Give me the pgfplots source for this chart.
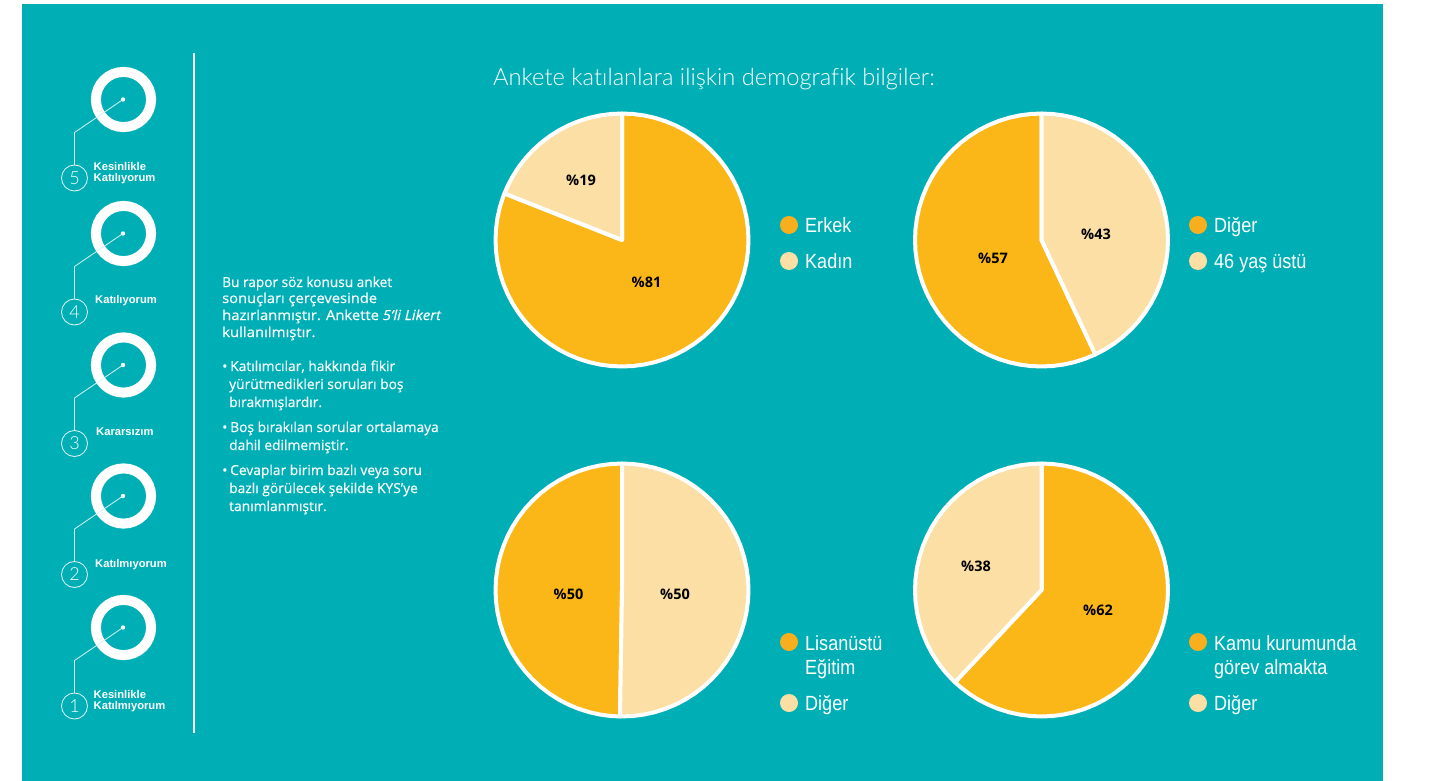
\documentclass[border=0pt]{standalone}
\usepackage{fontspec}
\usepackage{graphicx}
\usepackage{pgfplots}
\pgfplotsset{compat=1.18}
\setmainfont{Open Sans}
\newfontfamily\leg[FakeStretch=0.88]{Liberation Sans}
\newfontfamily\ttl[Ligatures=NoCommon]{Lato Light}
\newfontfamily\sm{Liberation Sans}
\definecolor{teal1}{HTML}{00AFB6}
\definecolor{org}{HTML}{FBB718}
\definecolor{lgt}{HTML}{FBDFA4}
\definecolor{legorg}{HTML}{F9AE1E}
\pgfplotsset{piebase/.style={hide axis,scale only axis,width=265.6pt,height=265.6pt,
  xmin=-1.05,xmax=1.05,ymin=-1.05,ymax=1.05,clip=false,anchor=center,no markers},
  wedge/.style={draw=white,line width=4pt,line join=round,data cs=polar}}
\begin{document}
\begin{tikzpicture}[x=1pt,y=-1pt]
\path[use as bounding box,fill=white] (0,0) rectangle (1429,781);
\fill[teal1] (22,4) rectangle (1383,781);
% vertical rule
\draw[white,line width=1.2pt] (194,53) -- (194,733);
% Likert icons
\foreach \c/\n in {99.5/5,233.5/4,365/3,496/2,627.5/1}{
  \draw[white,line width=10pt] (123.5,\c) circle (27.6);
  \fill[white] (123,\c) circle (2.2);
  \draw[white!85!teal1,line width=0.8pt] (123,\c) -- (74.5,\c+33) -- (74.5,\c+65.5);
  \draw[white!90!teal1,line width=0.8pt] (74.5,\c+78.5) circle (13);
  \node[white,font=\ttl\fontsize{18}{18}\selectfont] at (74.5,\c+78.5) {\n};
}
\tikzset{lk/.style={white,anchor=west,inner sep=0,font=\sm\bfseries\fontsize{11.2}{11.2}\selectfont}}
\node[lk] at (93.5,166.5) {Kesinlikle};
\node[lk] at (93.5,178.5) {Katılıyorum};
\node[lk] at (95,300.5) {Katılıyorum};
\node[lk] at (96,431.5) {Kararsızım};
\node[lk] at (95,564.5) {Katılmıyorum};
\node[lk] at (93.5,694.5) {Kesinlikle};
\node[lk] at (93.5,706.5) {Katılmıyorum};
% paragraph
\tikzset{pg/.style={white,anchor=base west,inner sep=0,font=\fontsize{13.8}{16}\selectfont\addfontfeature{FakeBold=0.2}}}
\node[pg] at (222,287) {\scalebox{0.99}[1]{Bu rapor söz konusu anket}};
\node[pg] at (222,303) {\scalebox{1.065}[1]{sonuçları çerçevesinde}};
\node[pg] at (222,320) {\scalebox{1.073}[1]{hazırlanmıştır. Ankette \textit{5’li Likert}}};
\node[pg] at (222,337) {\scalebox{1.08}[1]{kullanılmıştır.}};
\node[pg] at (222,371) {•};
\node[pg] at (230,371) {Katılımcılar, hakkında fikir};
\node[pg] at (229,389) {yürütmedikleri soruları boş};
\node[pg] at (229,407) {bırakmışlardır.};
\node[pg] at (222,432) {•};
\node[pg] at (230,432) {Boş bırakılan sorular ortalamaya};
\node[pg] at (229,450) {dahil edilmemiştir.};
\node[pg] at (222,475) {•};
\node[pg] at (230,475) {Cevaplar birim bazlı veya soru};
\node[pg] at (229,493) {bazlı görülecek şekilde KYS’ye};
\node[pg] at (229,511) {tanımlanmıştır.};
% title
\node[white,anchor=base west,inner sep=0,font=\ttl\fontsize{23.7}{23.7}\selectfont] at (493,86) {Ankete katılanlara ilişkin demografik bilgiler:};
% pie 1
\begin{axis}[piebase,at={(622pt,-240pt)}]
\addplot[wedge,fill=org] coordinates {(0,0) (90,1) (85,1) (80,1) (75,1) (70,1) (65,1) (60,1) (55,1) (50,1) (45,1) (40,1) (35,1) (30,1) (25,1) (20,1) (15,1) (10,1) (5,1) (0,1) (-5,1) (-10,1) (-15,1) (-20,1) (-25,1) (-30,1) (-35,1) (-40,1) (-45,1) (-50,1) (-55,1) (-60,1) (-65,1) (-70,1) (-75,1) (-80,1) (-85,1) (-90,1) (-95,1) (-100,1) (-105,1) (-110,1) (-115,1) (-120,1) (-125,1) (-130,1) (-135,1) (-140,1) (-145,1) (-150,1) (-155,1) (-160,1) (-165,1) (-170,1) (-175,1) (-180,1) (-185,1) (-190,1) (-195,1) (-200,1) (-201.6,1)} --cycle;
\addplot[wedge,fill=lgt] coordinates {(0,0) (158.4,1) (155,1) (150,1) (145,1) (140,1) (135,1) (130,1) (125,1) (120,1) (115,1) (110,1) (105,1) (100,1) (95,1) (90,1)} --cycle;
\end{axis}
% pie 2
\begin{axis}[piebase,at={(1041.5pt,-240pt)}]
\addplot[wedge,fill=org] coordinates {(0,0) (-64.8,1) (-65,1) (-70,1) (-75,1) (-80,1) (-85,1) (-90,1) (-95,1) (-100,1) (-105,1) (-110,1) (-115,1) (-120,1) (-125,1) (-130,1) (-135,1) (-140,1) (-145,1) (-150,1) (-155,1) (-160,1) (-165,1) (-170,1) (-175,1) (-180,1) (-185,1) (-190,1) (-195,1) (-200,1) (-205,1) (-210,1) (-215,1) (-220,1) (-225,1) (-230,1) (-235,1) (-240,1) (-245,1) (-250,1) (-255,1) (-260,1) (-265,1) (-270,1)} --cycle;
\addplot[wedge,fill=lgt] coordinates {(0,0) (90,1) (85,1) (80,1) (75,1) (70,1) (65,1) (60,1) (55,1) (50,1) (45,1) (40,1) (35,1) (30,1) (25,1) (20,1) (15,1) (10,1) (5,1) (0,1) (-5,1) (-10,1) (-15,1) (-20,1) (-25,1) (-30,1) (-35,1) (-40,1) (-45,1) (-50,1) (-55,1) (-60,1) (-64.8,1)} --cycle;
\end{axis}
% pie 3
\begin{axis}[piebase,at={(622pt,-590pt)}]
\addplot[wedge,fill=org] coordinates {(0,0) (90,1) (95,1) (100,1) (105,1) (110,1) (115,1) (120,1) (125,1) (130,1) (135,1) (140,1) (145,1) (150,1) (155,1) (160,1) (165,1) (170,1) (175,1) (180,1) (185,1) (190,1) (195,1) (200,1) (205,1) (210,1) (215,1) (220,1) (225,1) (230,1) (235,1) (240,1) (245,1) (250,1) (255,1) (260,1) (265,1) (269.1,1)} --cycle;
\addplot[wedge,fill=lgt] coordinates {(0,0) (90,1) (85,1) (80,1) (75,1) (70,1) (65,1) (60,1) (55,1) (50,1) (45,1) (40,1) (35,1) (30,1) (25,1) (20,1) (15,1) (10,1) (5,1) (0,1) (-5,1) (-10,1) (-15,1) (-20,1) (-25,1) (-30,1) (-35,1) (-40,1) (-45,1) (-50,1) (-55,1) (-60,1) (-65,1) (-70,1) (-75,1) (-80,1) (-85,1) (-90.9,1)} --cycle;
\end{axis}
% pie 4
\begin{axis}[piebase,at={(1041.5pt,-590pt)}]
\addplot[wedge,fill=org] coordinates {(0,0) (90,1) (85,1) (80,1) (75,1) (70,1) (65,1) (60,1) (55,1) (50,1) (45,1) (40,1) (35,1) (30,1) (25,1) (20,1) (15,1) (10,1) (5,1) (0,1) (-5,1) (-10,1) (-15,1) (-20,1) (-25,1) (-30,1) (-35,1) (-40,1) (-45,1) (-50,1) (-55,1) (-60,1) (-65,1) (-70,1) (-75,1) (-80,1) (-85,1) (-90,1) (-95,1) (-100,1) (-105,1) (-110,1) (-115,1) (-120,1) (-125,1) (-130,1) (-133.2,1)} --cycle;
\addplot[wedge,fill=lgt] coordinates {(0,0) (226.8,1) (225,1) (220,1) (215,1) (210,1) (205,1) (200,1) (195,1) (190,1) (185,1) (180,1) (175,1) (170,1) (165,1) (160,1) (155,1) (150,1) (145,1) (140,1) (135,1) (130,1) (125,1) (120,1) (115,1) (110,1) (105,1) (100,1) (95,1) (90,1)} --cycle;
\end{axis}
% value labels
\tikzset{vl/.style={black,inner sep=0,font=\bfseries\fontsize{14.5}{14.5}\selectfont}}
\node[vl] at (646.5,282) {\%81};
\node[vl] at (581,180) {\%19};
\node[vl] at (993,258) {\%57};
\node[vl] at (1096,234) {\%43};
\node[vl] at (568.5,594) {\%50};
\node[vl] at (675,594) {\%50};
\node[vl] at (976,566) {\%38};
\node[vl] at (1098,610) {\%62};
% legends
\tikzset{lg/.style={white,anchor=base west,inner sep=0,font=\leg\fontsize{20.5}{20.5}\selectfont}}
\foreach \x/\y/\col in {789/225/legorg,789/261/lgt,1198/225/legorg,1198/261/lgt,789/642/legorg,789/703/lgt,1198/642/legorg,1198/703/lgt}
  \fill[\col] (\x,\y) circle (9);
\node[lg] at (805,232) {Erkek};
\node[lg] at (805,268) {Kadın};
\node[lg] at (1214,232) {Diğer};
\node[lg] at (1214,268) {46 yaş üstü};
\node[lg] at (805,650) {Lisanüstü};
\node[lg] at (805,674) {Eğitim};
\node[lg] at (805,710) {Diğer};
\node[lg] at (1214,650) {Kamu kurumunda};
\node[lg] at (1214,674) {görev almakta};
\node[lg] at (1214,710) {Diğer};
\end{tikzpicture}
\end{document}
